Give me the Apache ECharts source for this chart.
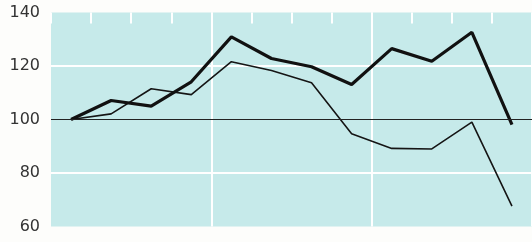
<!DOCTYPE html>
<html><head><meta charset="utf-8">
<script src="https://cdn.jsdelivr.net/npm/echarts@6/dist/echarts.min.js"></script>
<style>html,body{margin:0;padding:0;background:#fdfdfb;}#c{width:532px;height:242px;}</style>
</head><body><div id="c"></div>
<script>
const categories = ['1','2','3','4','5','6','7','8','9','10','11','12'];
const thickSeries = [100, 107.1, 105.0, 114.1, 130.9, 122.8, 119.7, 113.1, 126.5, 121.8, 132.6, 98.1];
const thinSeries = [100, 102.1, 111.5, 109.3, 121.6, 118.3, 113.7, 94.7, 89.2, 89.0, 99.0, 67.6];
const yTicks = [60, 80, 100, 120, 140];

const chart = echarts.init(document.getElementById('c'), null, {renderer:'canvas'});
chart.setOption({
  animation:false,
  backgroundColor:'#fdfdfb',
  grid:{left:51,right:-5,top:12.5,bottom:15.5,show:true,backgroundColor:'#c6eaea',borderWidth:0},
  xAxis:{
    type:'category', data:categories, position:'top', boundaryGap:true,
    axisLine:{show:false}, axisLabel:{show:false},
    axisTick:{show:true,inside:true,length:11,lineStyle:{color:'#ffffff',width:2}},
    splitLine:{show:true,interval:(i)=>i===4||i===8,lineStyle:{color:'#ffffff',width:2}}
  },
  yAxis:{
    type:'value', min:yTicks[0], max:yTicks[yTicks.length-1], interval:20,
    axisLine:{show:false}, axisTick:{show:false},
    axisLabel:{margin:11,fontFamily:'DejaVu Sans',fontSize:16,color:'#333',
      formatter:(v)=>yTicks.includes(v)?String(v):''},
    splitLine:{show:true,lineStyle:{color:['rgba(0,0,0,0)','#ffffff','rgba(0,0,0,0)','#ffffff','rgba(0,0,0,0)'],width:2}}
  },
  series:[
    {type:'line',data:thinSeries,symbol:'none',lineStyle:{color:'#151515',width:1.6},z:3,
     markLine:{silent:true,symbol:'none',label:{show:false},lineStyle:{color:'#222',width:1.2,type:'solid'},data:[{yAxis:100}]}},
    {type:'line',data:thickSeries,symbol:'none',lineStyle:{color:'#111',width:3.2},z:4}
  ]
});
</script></body></html>
